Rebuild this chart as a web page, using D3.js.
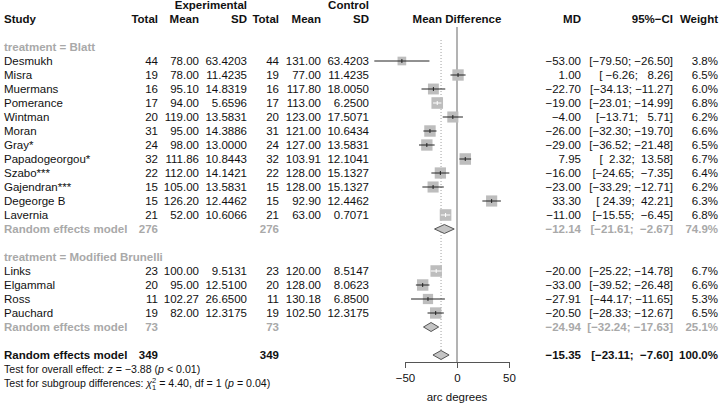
<!DOCTYPE html>
<html><head><meta charset="utf-8">
<script src="https://cdn.jsdelivr.net/npm/d3@7/dist/d3.min.js"></script>
<style>
body{margin:0;background:#fff;}
svg text{font-family:"Liberation Sans",Arial,Helvetica,sans-serif;white-space:pre;}
</style></head>
<body>
<svg id="chart" width="720" height="409"></svg>
<script>
// ---------------- data ----------------
const studies = ["Desmukh","Misra","Muermans","Pomerance","Wintman","Moran","Gray*","Papadogeorgou*","Szabo***","Gajendran***","Degeorge B","Lavernia",
                 "Links","Elgammal","Ross","Pauchard"];
const groups = ["Blatt","Blatt","Blatt","Blatt","Blatt","Blatt","Blatt","Blatt","Blatt","Blatt","Blatt","Blatt",
                "Modified Brunelli","Modified Brunelli","Modified Brunelli","Modified Brunelli"];
const nE    = [44,19,16,17,20,31,24,32,22,15,15,21, 23,20,11,19];
const meanE = [78.00,78.00,95.10,94.00,119.00,95.00,98.00,111.86,112.00,105.00,126.20,52.00, 100.00,95.00,102.27,82.00];
const sdE   = [63.4203,11.4235,14.8319,5.6596,13.5831,14.3886,13.0000,10.8443,14.1421,13.5831,12.4462,10.6066, 9.5131,12.5100,26.6500,12.3175];
const nC    = [44,19,16,17,20,31,24,32,22,15,15,21, 23,20,11,19];
const meanC = [131.00,77.00,117.80,113.00,123.00,121.00,127.00,103.91,128.00,128.00,92.90,63.00, 120.00,128.00,130.18,102.50];
const sdC   = [63.4203,11.4235,18.0050,6.2500,17.5071,10.6434,13.5831,12.1041,15.1327,15.1327,12.4462,0.7071, 8.5147,8.0623,6.8500,12.3175];
const md    = [-53.00,1.00,-22.70,-19.00,-4.00,-26.00,-29.00,7.95,-16.00,-23.00,33.30,-11.00, -20.00,-33.00,-27.91,-20.50];
const lower = [-79.50,-6.26,-34.13,-23.01,-13.71,-32.30,-36.52,2.32,-24.65,-33.29,24.39,-15.55, -25.22,-39.52,-44.17,-28.33];
const upper = [-26.50,8.26,-11.27,-14.99,5.71,-19.70,-21.48,13.58,-7.35,-12.71,42.21,-6.45, -14.78,-26.48,-11.65,-12.67];
const weight= [3.8,6.5,6.0,6.8,6.2,6.6,6.5,6.7,6.4,6.2,6.3,6.8, 6.7,6.6,5.3,6.5];

const subgroupNames = ["Blatt","Modified Brunelli"];
const subN      = [276,73];
const subMD     = [-12.14,-24.94];
const subLower  = [-21.61,-32.24];
const subUpper  = [-2.67,-17.63];
const subWeight = [74.9,25.1];

const overallN = 349, overallMD = -15.35, overallLower = -23.11, overallUpper = -7.60, overallWeight = 100.0;
const axisTicks = [-50,0,50];
const axisLabel = "arc degrees";

// ---------------- layout ----------------
const svg = d3.select("#chart");
const FS = 11.5;
const black = "#111", grey = "#a9a9a9";
const rowY = i => 61 + 14*i;          // row centre
const base = i => rowY(i) + 4;        // text baseline
const x = d3.scaleLinear().domain([-50,50]).range([405,509]);
const boxSize = d3.scaleSqrt().domain([0,6.8]).range([0,11.6]);

const col = {study:4, eT:158, eM:199, eSD:247, cT:279, cM:321, cSD:369, md:581, ci:673, w:718};

const minus = s => s.replace(/-/g,"\u2212");
const f2 = v => minus(v.toFixed(2));
const f4 = v => v.toFixed(4);
const pad = (s,n) => s.padStart(n," ");
const ciStr = (l,u) => "[" + pad(f2(l),6) + "; " + pad(f2(u),6) + "]";

function txt(xp, y, s, opt={}) {
  return svg.append("text").attr("x",xp).attr("y",y).text(s)
    .attr("font-size", opt.fs||FS)
    .attr("font-weight", opt.bold?"bold":"normal")
    .attr("fill", opt.fill||black)
    .attr("text-anchor", opt.anchor||"end");
}

// headers
txt(col.eSD, base(-4), "Experimental", {bold:true});
txt(col.cSD, base(-4), "Control", {bold:true});
txt(col.study, base(-3), "Study", {bold:true, anchor:"start"});
[["Total",col.eT],["Mean",col.eM],["SD",col.eSD],["Total",col.cT],["Mean",col.cM],["SD",col.cSD],
 ["MD",col.md],["95%\u2212CI",col.ci],["Weight",col.w]].forEach(([s,xp])=>txt(xp, base(-3), s, {bold:true}));
txt(x(0), base(-3), "Mean Difference", {bold:true, anchor:"middle"});

// row assignment
const rowsOf = {"Blatt":{head:-1, first:0, sub:12}, "Modified Brunelli":{head:14, first:15, sub:19}};
const studyRows = [];
const counter = {};
studies.forEach((s,i)=>{
  const g = groups[i]; counter[g] = (counter[g]||0);
  studyRows.push(rowsOf[g].first + counter[g]); counter[g]++;
});

// reference lines
svg.append("line").attr("x1",x(0)).attr("x2",x(0)).attr("y1",27).attr("y2",362)
  .attr("stroke","#808080").attr("stroke-width",1.2);
svg.append("line").attr("x1",x(overallMD)).attr("x2",x(overallMD)).attr("y1",40).attr("y2",361)
  .attr("stroke","#a0a0a0").attr("stroke-width",1).attr("stroke-dasharray","1,2");

// subgroup headers
subgroupNames.forEach((g,k)=>{
  txt(col.study, base(rowsOf[g].head), "treatment = " + g, {bold:true, fill:grey, anchor:"start"});
});

// study rows
studies.forEach((s,i)=>{
  const r = studyRows[i], b = base(r), cy = rowY(r);
  txt(col.study, b, s, {anchor:"start"});
  txt(col.eT, b, String(nE[i]));
  txt(col.eM, b, meanE[i].toFixed(2));
  txt(col.eSD, b, f4(sdE[i]));
  txt(col.cT, b, String(nC[i]));
  txt(col.cM, b, meanC[i].toFixed(2));
  txt(col.cSD, b, f4(sdC[i]));
  txt(col.md, b, f2(md[i]));
  txt(col.ci, b, ciStr(lower[i], upper[i]));
  txt(col.w, b, weight[i].toFixed(1)+"%");
  const sz = boxSize(weight[i]);
  svg.append("rect").attr("x",x(md[i])-sz/2).attr("y",cy-sz/2).attr("width",sz).attr("height",sz)
    .attr("fill","#bdbdbd");
  const inside = (x(upper[i])-x(lower[i])) < sz;
  const lc = inside ? "#ffffff" : "#222";
  svg.append("line").attr("x1",x(lower[i])).attr("x2",x(upper[i])).attr("y1",cy).attr("y2",cy)
    .attr("stroke",lc).attr("stroke-width",1);
  svg.append("line").attr("x1",x(md[i])).attr("x2",x(md[i])).attr("y1",cy-2).attr("y2",cy+2)
    .attr("stroke",lc).attr("stroke-width",1);
});

function diamond(m,l,u,cy){
  const h = 4.5;
  svg.append("path")
    .attr("d",`M${x(l)},${cy} L${x(m)},${cy-h} L${x(u)},${cy} L${x(m)},${cy+h} Z`)
    .attr("fill","#c4c4c4").attr("stroke","#555").attr("stroke-width",1);
}

// subgroup summaries
subgroupNames.forEach((g,k)=>{
  const r = rowsOf[g].sub, b = base(r);
  const o = {bold:true, fill:grey};
  txt(col.study, b, "Random effects model", {...o, anchor:"start"});
  txt(col.eT, b, String(subN[k]), o);
  txt(col.cT, b, String(subN[k]), o);
  txt(col.md, b, f2(subMD[k]), o);
  txt(col.ci, b, ciStr(subLower[k], subUpper[k]), o);
  txt(col.w, b, subWeight[k].toFixed(1)+"%", o);
  diamond(subMD[k], subLower[k], subUpper[k], rowY(r));
});

// overall
{
  const r = 21, b = base(r);
  txt(col.study, b, "Random effects model", {bold:true, anchor:"start"});
  txt(col.eT, b, String(overallN), {bold:true});
  txt(col.cT, b, String(overallN), {bold:true});
  txt(col.md, b, f2(overallMD), {bold:true});
  txt(col.ci, b, ciStr(overallLower, overallUpper), {bold:true});
  txt(col.w, b, overallWeight.toFixed(1)+"%", {bold:true});
  diamond(overallMD, overallLower, overallUpper, rowY(r));
}

// tests
const t1 = svg.append("text").attr("x",col.study).attr("y",base(22)).attr("font-size",10.6).attr("fill",black);
t1.append("tspan").text("Test for overall effect: ");
t1.append("tspan").attr("font-style","italic").text("z");
t1.append("tspan").text(" = \u22123.88 (");
t1.append("tspan").attr("font-style","italic").text("p");
t1.append("tspan").text(" < 0.01)");

const t2 = svg.append("text").attr("x",col.study).attr("y",base(23)).attr("font-size",10.6).attr("fill",black);
t2.append("tspan").text("Test for subgroup differences: ");
t2.append("tspan").attr("font-style","italic").text("\u03C7");
t2.append("tspan").attr("font-size",7.5).attr("dy",-4).text("2");
t2.append("tspan").attr("font-size",7.5).attr("dx",-4.2).attr("dy",7).text("1");
t2.append("tspan").attr("dy",-3).text(" = 4.40, df = 1 (");
t2.append("tspan").attr("font-style","italic").text("p");
t2.append("tspan").text(" = 0.04)");

// axis
const ax = svg.append("g").attr("transform","translate(0,362)")
  .call(d3.axisBottom(x).tickValues(axisTicks).tickSize(6).tickSizeOuter(0).tickPadding(6));
ax.select(".domain").attr("stroke","#555");
ax.selectAll(".tick line").attr("stroke","#555");
ax.selectAll(".tick text").attr("font-size",FS).attr("fill",black)
  .attr("font-family","'Liberation Sans',Arial,sans-serif");
svg.append("text").attr("x",x(0)).attr("y",401).attr("text-anchor","middle")
  .attr("font-size",FS).attr("fill",black).text(axisLabel);
</script>
</body></html>
